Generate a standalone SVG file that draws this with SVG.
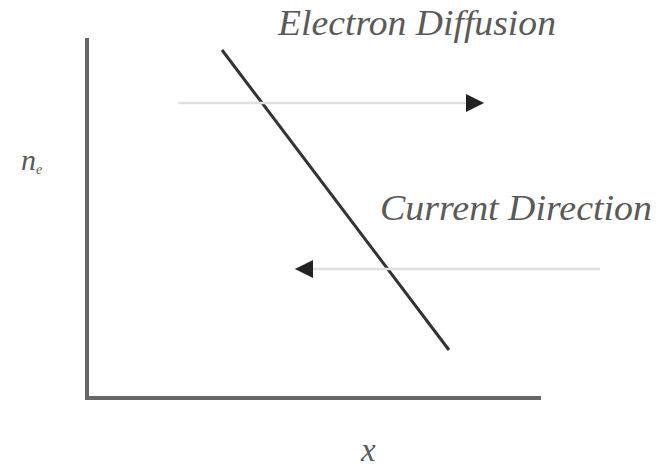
<svg xmlns="http://www.w3.org/2000/svg" width="660" height="470" viewBox="0 0 660 470">
<style>
.lbl{font-family:"Liberation Serif","Times New Roman",serif;font-style:italic;fill:#5a5a5a;}
.axis{stroke:#666;stroke-width:4;fill:none;}
.curve{stroke:#333;stroke-width:3;fill:none;}
.arr{stroke:#e0e0e0;stroke-width:2.5;fill:none;}
</style>
<defs>
<marker id="ah" viewBox="0 0 10 10" refX="10" refY="5" markerWidth="22" markerHeight="18" markerUnits="userSpaceOnUse" orient="auto">
<path d="M0,0 L10,5 L0,10 Z" fill="#222"/>
</marker>
</defs>
<g id="axes">
<path class="axis" d="M87,38 L87,398 L541,398"/>
</g>
<g id="line">
<line class="curve" x1="222" y1="50" x2="449" y2="350"/>
</g>
<g id="connectors">
<line class="arr" x1="178" y1="103" x2="484" y2="103" marker-end="url(#ah)"/>
<line class="arr" x1="600" y1="269" x2="295" y2="269" marker-end="url(#ah)"/>
</g>
<g id="labels">
<text class="lbl" x="278" y="35" font-size="35" textLength="278" lengthAdjust="spacingAndGlyphs">Electron Diffusion</text>
<text class="lbl" x="380" y="220" font-size="35" textLength="272" lengthAdjust="spacingAndGlyphs">Current Direction</text>
<text class="lbl" x="21" y="170" font-size="30">n<tspan font-size="14" dy="4">e</tspan></text>
<text class="lbl" x="361" y="461" font-size="33">x</text>
</g>
</svg>
